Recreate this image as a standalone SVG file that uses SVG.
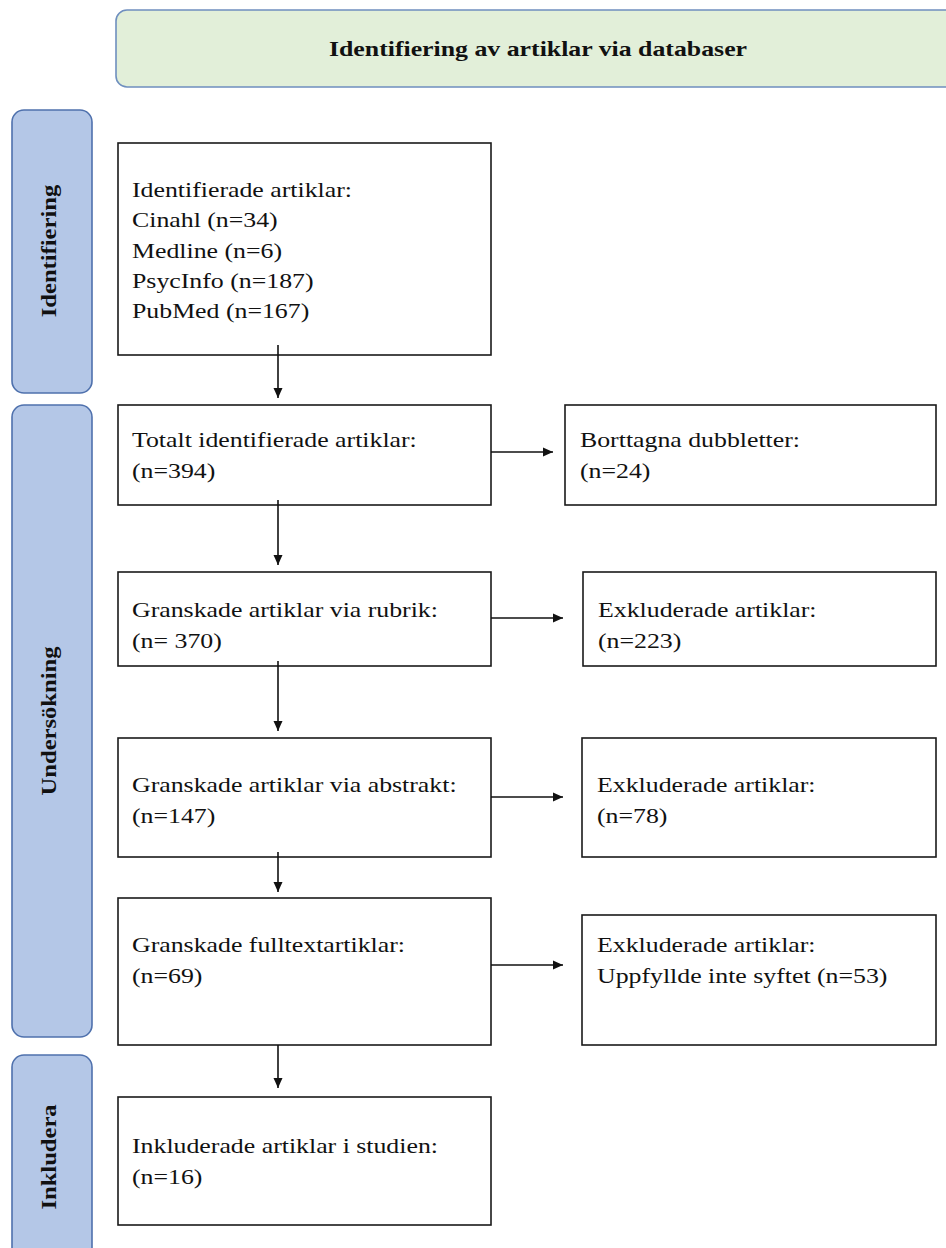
<svg xmlns="http://www.w3.org/2000/svg" width="946" height="1248" viewBox="0 0 946 1248">
<style>
.box{fill:#ffffff;stroke:#1a1a1a;stroke-width:1.6}
.bar{fill:#b4c7e7;stroke:#4f71ad;stroke-width:1.6}
.hdr{fill:#e2efd9;stroke:#6f8fbf;stroke-width:1.6}
.t{font-family:"Liberation Serif","Times New Roman",serif;font-size:21px;fill:#111}
.b{font-family:"Liberation Serif","Times New Roman",serif;font-size:20px;font-weight:bold;fill:#111}
.h{font-family:"Liberation Serif","Times New Roman",serif;font-size:21px;font-weight:bold;fill:#111}
.c{stroke:#111;stroke-width:1.6;fill:none}
</style>
<defs>
<marker id="ah" viewBox="0 0 10 10" refX="10" refY="5" markerWidth="10" markerHeight="10" markerUnits="userSpaceOnUse" orient="auto">
<path d="M0,0.5 L10,5 L0,9.5 Z" fill="#111"/>
</marker>
</defs>
<rect width="946" height="1248" fill="#ffffff"/>

<g id="header">
<rect class="hdr" x="116" y="10" width="860" height="77" rx="11"/>
<text class="h" text-anchor="middle" transform="translate(538,56) scale(1.23,1)">Identifiering av artiklar via databaser</text>
</g>

<g id="phase-identifiering">
<rect class="bar" x="12" y="110" width="80" height="283" rx="12"/>
<text class="b" text-anchor="middle" transform="translate(56,251) rotate(-90) scale(1.23,1)">Identifiering</text>
</g>
<g id="phase-undersokning">
<rect class="bar" x="12" y="405" width="80" height="632" rx="12"/>
<text class="b" text-anchor="middle" transform="translate(56,721) rotate(-90) scale(1.23,1)">Undersökning</text>
</g>
<g id="phase-inkludera">
<rect class="bar" x="12" y="1055" width="80" height="210" rx="12"/>
<text class="b" text-anchor="middle" transform="translate(56,1157) rotate(-90) scale(1.23,1)">Inkludera</text>
</g>

<g id="n-identified">
<rect class="box" x="118" y="143" width="373" height="212"/>
<text class="t" transform="translate(132,197) scale(1.23,1)"><tspan x="0" y="0">Identifierade artiklar:</tspan><tspan x="0" dy="30.3">Cinahl (n=34)</tspan><tspan x="0" dy="30.3">Medline (n=6)</tspan><tspan x="0" dy="30.3">PsycInfo (n=187)</tspan><tspan x="0" dy="30.3">PubMed (n=167)</tspan></text>
</g>
<g id="n-total">
<rect class="box" x="118" y="405" width="373" height="100"/>
<text class="t" transform="translate(132,447) scale(1.23,1)"><tspan x="0" y="0">Totalt identifierade artiklar:</tspan><tspan x="0" dy="31">(n=394)</tspan></text>
</g>
<g id="n-duplicates">
<rect class="box" x="565" y="405" width="371" height="100"/>
<text class="t" transform="translate(580,447) scale(1.23,1)"><tspan x="0" y="0">Borttagna dubbletter:</tspan><tspan x="0" dy="31">(n=24)</tspan></text>
</g>
<g id="n-title">
<rect class="box" x="118" y="572" width="373" height="94"/>
<text class="t" transform="translate(132,617) scale(1.23,1)"><tspan x="0" y="0">Granskade artiklar via rubrik:</tspan><tspan x="0" dy="31">(n= 370)</tspan></text>
</g>
<g id="n-excl-title">
<rect class="box" x="583" y="572" width="353" height="94"/>
<text class="t" transform="translate(598,617) scale(1.23,1)"><tspan x="0" y="0">Exkluderade artiklar:</tspan><tspan x="0" dy="31">(n=223)</tspan></text>
</g>
<g id="n-abstract">
<rect class="box" x="118" y="738" width="373" height="119"/>
<text class="t" transform="translate(132,792) scale(1.23,1)"><tspan x="0" y="0">Granskade artiklar via abstrakt:</tspan><tspan x="0" dy="31">(n=147)</tspan></text>
</g>
<g id="n-excl-abstract">
<rect class="box" x="582" y="738" width="354" height="119"/>
<text class="t" transform="translate(597,792) scale(1.23,1)"><tspan x="0" y="0">Exkluderade artiklar:</tspan><tspan x="0" dy="31">(n=78)</tspan></text>
</g>
<g id="n-fulltext">
<rect class="box" x="118" y="898" width="373" height="147"/>
<text class="t" transform="translate(132,952) scale(1.23,1)"><tspan x="0" y="0">Granskade fulltextartiklar:</tspan><tspan x="0" dy="31">(n=69)</tspan></text>
</g>
<g id="n-excl-fulltext">
<rect class="box" x="582" y="915" width="354" height="130"/>
<text class="t" transform="translate(597,952) scale(1.23,1)"><tspan x="0" y="0">Exkluderade artiklar:</tspan><tspan x="0" dy="31">Uppfyllde inte syftet (n=53)</tspan></text>
</g>
<g id="n-included">
<rect class="box" x="118" y="1097" width="373" height="128"/>
<text class="t" transform="translate(132,1153) scale(1.23,1)"><tspan x="0" y="0">Inkluderade artiklar i studien:</tspan><tspan x="0" dy="31">(n=16)</tspan></text>
</g>

<g id="connectors">
<line class="c" x1="278" y1="345" x2="278" y2="398" marker-end="url(#ah)"/>
<line class="c" x1="278" y1="500" x2="278" y2="565" marker-end="url(#ah)"/>
<line class="c" x1="278" y1="661" x2="278" y2="731" marker-end="url(#ah)"/>
<line class="c" x1="278" y1="852" x2="278" y2="892" marker-end="url(#ah)"/>
<line class="c" x1="278" y1="1045" x2="278" y2="1088" marker-end="url(#ah)"/>
<line class="c" x1="491" y1="452" x2="553" y2="452" marker-end="url(#ah)"/>
<line class="c" x1="491" y1="618" x2="563" y2="618" marker-end="url(#ah)"/>
<line class="c" x1="491" y1="797" x2="563" y2="797" marker-end="url(#ah)"/>
<line class="c" x1="491" y1="965" x2="563" y2="965" marker-end="url(#ah)"/>
</g>
</svg>
